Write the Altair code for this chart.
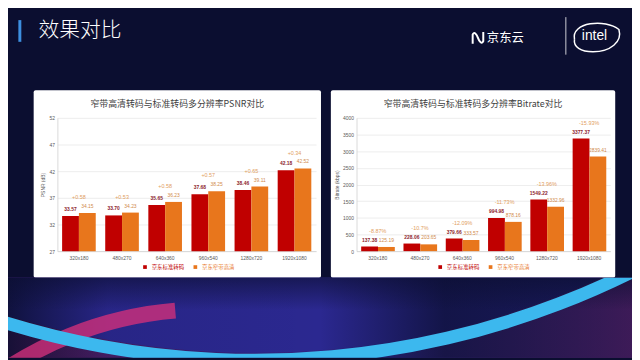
import altair as alt
import pandas as pd

resolutions = ["320x180", "480x270", "640x360", "960x540", "1280x720", "1920x1080"]
series_names = ["京东标准转码", "京东窄带高清"]

psnr_std = [33.57, 33.70, 35.65, 37.68, 38.46, 42.18]
psnr_nb = [34.15, 34.23, 36.23, 38.25, 39.11, 42.52]
psnr_diff = ["+0.58", "+0.53", "+0.58", "+0.57", "+0.65", "+0.34"]
psnr_ticks = [27, 32, 37, 42, 47, 52]

br_std = [137.38, 228.06, 379.66, 994.98, 1549.22, 3377.37]
br_nb = [125.19, 203.65, 333.57, 878.16, 1332.96, 2839.41]
br_diff = ["-8.87%", "-10.7%", "-12.09%", "-11.73%", "-13.96%", "-15.93%"]
br_ticks = [0, 500, 1000, 1500, 2000, 2500, 3000, 3500, 4000]

RED = "#c00000"
ORANGE = "#e8761c"
FONT = "Noto Sans CJK SC"
BG = "#0b0e30"


def panel(std, nb, diff, ticks, ytitle, title, W, H, x0, x1, y_top, y_bot, legend_x):
    df = pd.DataFrame({
        "res": resolutions * 2,
        "series": [series_names[0]] * 6 + [series_names[1]] * 6,
        "value": std + nb,
        "diff": diff * 2,
    })
    xenc = alt.X(
        "res:N", sort=resolutions,
        scale=alt.Scale(domain=resolutions, range=[x0, x1], paddingInner=0.22, paddingOuter=0.11),
        axis=alt.Axis(title=None, offset=-(H - y_bot), labelAngle=0, labelFontSize=5,
                      labelColor="#595959", domainColor="#d0d0d0", domainWidth=0.8,
                      ticks=False, labelPadding=4, labelFont="Liberation Sans"),
    )
    xoff = alt.XOffset("series:N", sort=series_names,
                       scale=alt.Scale(domain=series_names, paddingInner=0))

    def yenc(field):
        return alt.Y(
            field,
            scale=alt.Scale(domain=[ticks[0], ticks[-1]], range=[y_bot, y_top], nice=False, zero=False),
            axis=alt.Axis(values=ticks, format="d", title=ytitle, offset=-x0, labelFontSize=5,
                          labelColor="#595959", titleFontSize=5, titleColor="#595959",
                          titleFontWeight="normal", titlePadding=3, labelPadding=3, ticks=False,
                          domainColor="#d0d0d0", domainWidth=0.8, gridColor="#e0e0e0",
                          gridWidth=0.6, labelFont="Liberation Sans", titleFont="Liberation Sans"),
        )

    base = alt.Chart(df)
    bars = base.mark_bar().encode(
        x=xenc, xOffset=xoff, y=yenc("value:Q"), y2=alt.datum(ticks[0]),
        color=alt.Color(
            "series:N",
            scale=alt.Scale(domain=series_names, range=[RED, ORANGE]),
            legend=alt.Legend(
                title=None, orient="none", legendX=legend_x, legendY=H - 14,
                direction="horizontal", symbolType="square", symbolSize=14,
                labelFontSize=5.5, labelFont=FONT, columnPadding=8, symbolStrokeWidth=0,
                labelColor={"expr": f"datum.value === '{series_names[0]}' ? '{RED}' : '{ORANGE}'"},
            ),
        ),
    )
    lab_std = base.transform_filter(alt.datum.series == series_names[0]).mark_text(
        dy=-4, fontSize=5, fontWeight="bold", color="#8c1c2c", baseline="bottom",
        font="Liberation Sans",
    ).encode(x=xenc, xOffset=xoff, y=yenc("value:Q"), text=alt.Text("value:Q", format=".2f"))
    lab_nb = base.transform_filter(alt.datum.series == series_names[1]).mark_text(
        dy=-4, fontSize=5, color="#d08a4c", baseline="bottom", font="Liberation Sans",
    ).encode(x=xenc, xOffset=xoff, y=yenc("value:Q"), text=alt.Text("value:Q", format=".2f"))
    lab_diff = base.transform_aggregate(
        top="max(value)", groupby=["res", "diff"]
    ).mark_text(
        dy=-13, fontSize=5.5, color="#e2a062", baseline="bottom", font="Liberation Sans",
    ).encode(x=xenc, y=yenc("top:Q"), text="diff:N")
    ttl = alt.Chart(alt.Data(values=[{"t": title}])).mark_text(
        fontSize=9, color="#404040", font=FONT, baseline="middle", align="center",
    ).encode(x=alt.value(W / 2), y=alt.value(14), text="t:N")

    return alt.layer(bars, lab_std, lab_nb, lab_diff, ttl).properties(
        width=W, height=H,
        view=alt.ViewBackground(fill="white", stroke=None, cornerRadius=2),
    )


left = panel(psnr_std, psnr_nb, psnr_diff, psnr_ticks, "PSNR (dB)",
             "窄带高清转码与标准转码多分辨率PSNR对比", 291, 190, 24, 286, 28, 163, 110)
right = panel(br_std, br_nb, br_diff, br_ticks, "Bitrate (kbps)",
              "窄带高清转码与标准转码多分辨率Bitrate对比", 288, 190, 26, 283, 28, 163, 108)

one = alt.Data(values=[{"a": 1}])
spacer = alt.Chart(one).mark_rule(opacity=0).encode(x=alt.value(0)).properties(
    width=16, height=190, view=alt.ViewBackground(stroke=None))

# ---- slide header ----
hdr_bar = alt.Chart(one).mark_rule(color="#3d8fe0", strokeWidth=3).encode(
    x=alt.value(12), y=alt.value(10), y2=alt.value(32))
hdr_title = alt.Chart(alt.Data(values=[{"t": "效果对比"}])).mark_text(
    fontSize=21, color="white", font=FONT, align="left", baseline="middle", fontWeight=300,
).encode(x=alt.value(31), y=alt.value(21), text="t:N")
jd_icon = alt.Chart(one).mark_point(
    shape="M-0.8,0.9 L-0.8,-0.5 C-0.6,-1 -0.2,-0.6 0,0 C0.2,0.6 0.6,1 0.8,0.5 L0.8,-0.9",
    filled=False, color="white", strokeWidth=2, size=180, opacity=1,
).encode(x=alt.value(476), y=alt.value(28))
jd_text = alt.Chart(alt.Data(values=[{"t": "京东云"}])).mark_text(
    fontSize=12.5, color="white", font=FONT, align="left", baseline="middle",
).encode(x=alt.value(485), y=alt.value(28), text="t:N")
sep = alt.Chart(one).mark_rule(color="white", strokeWidth=1, opacity=0.8).encode(
    x=alt.value(565), y=alt.value(7), y2=alt.value(45))
intel_text = alt.Chart(alt.Data(values=[{"t": "intel"}])).mark_text(
    fontSize=14, color="white", font="Liberation Sans", align="center", baseline="middle",
).encode(x=alt.value(594), y=alt.value(26), text="t:N")
intel_ring = alt.Chart(one).mark_point(
    shape="M-0.85,0.1 C-1,-0.6 0.4,-0.75 0.95,-0.3 C1.1,0.2 0.6,0.6 -0.1,0.6 C-0.6,0.6 -0.9,0.4 -0.85,0.1",
    filled=False, color="white", strokeWidth=1.5, size=2500, opacity=1,
).encode(x=alt.value(595), y=alt.value(27))

header = alt.layer(hdr_bar, hdr_title, jd_icon, jd_text, sep, intel_text, intel_ring).properties(
    width=632, height=81, view=alt.ViewBackground(stroke=None))

# ---- decorative slide footer ----
foot_under = alt.Chart(one).mark_rect(
    color=alt.LinearGradient(
        gradient="linear", x1=0, x2=1, y1=0, y2=0,
        stops=[
            alt.GradientStop(color="#5a1c5c", offset=0),
            alt.GradientStop(color="#3a2070", offset=0.3),
            alt.GradientStop(color="#2a2a8c", offset=0.6),
            alt.GradientStop(color="#7a2a88", offset=1),
        ],
    )
).encode(x=alt.value(0), x2=alt.value(632), y=alt.value(0), y2=alt.value(81))
foot_disc = alt.Chart(one).mark_arc(
    theta=2.4, theta2=3.9, radius=852, radius2=0, color="#2b2890", clip=True,
).encode(x=alt.value(250), y=alt.value(-776))
foot_shade = alt.Chart(one).mark_rect(
    color=alt.LinearGradient(
        gradient="linear", x1=0, x2=1, y1=0, y2=0,
        stops=[
            alt.GradientStop(color="rgba(11,14,48,0.85)", offset=0),
            alt.GradientStop(color="rgba(11,14,48,0.1)", offset=0.16),
            alt.GradientStop(color="rgba(11,14,48,0)", offset=0.5),
            alt.GradientStop(color="rgba(11,14,48,0.75)", offset=0.7),
            alt.GradientStop(color="rgba(11,14,48,0.55)", offset=1),
        ],
    )
).encode(x=alt.value(0), x2=alt.value(632), y=alt.value(0), y2=alt.value(81))
foot_fade = alt.Chart(one).mark_rect(
    color=alt.LinearGradient(
        gradient="linear", x1=0, x2=0, y1=0, y2=1,
        stops=[
            alt.GradientStop(color="rgba(11,14,48,0.6)", offset=0),
            alt.GradientStop(color="rgba(11,14,48,0)", offset=0.4),
        ],
    )
).encode(x=alt.value(0), x2=alt.value(632), y=alt.value(0), y2=alt.value(81))
foot_pink = alt.Chart(one).mark_arc(
    theta=5.6, theta2=6.2, radius=376, radius2=360, color="#d0307a", opacity=0.8, clip=True,
).encode(x=alt.value(200), y=alt.value(400))
foot_band = alt.Chart(one).mark_arc(
    theta=2.5, theta2=3.6, radius=866, radius2=853, color="#3cb8ee", clip=True,
).encode(x=alt.value(250), y=alt.value(-776))

footer = alt.layer(foot_under, foot_disc, foot_shade, foot_fade, foot_pink, foot_band).properties(
    width=632, height=81, view=alt.ViewBackground(stroke=None))

row = alt.hconcat(spacer, left, right, spacing=10).resolve_legend(color="independent")

chart = alt.vconcat(header, row, footer, spacing=0).properties(
    background=BG,
    padding=0,
).configure(font=FONT).configure_view(stroke=None)

chart.save("out.html", embed_options={"renderer": "svg", "actions": False})
